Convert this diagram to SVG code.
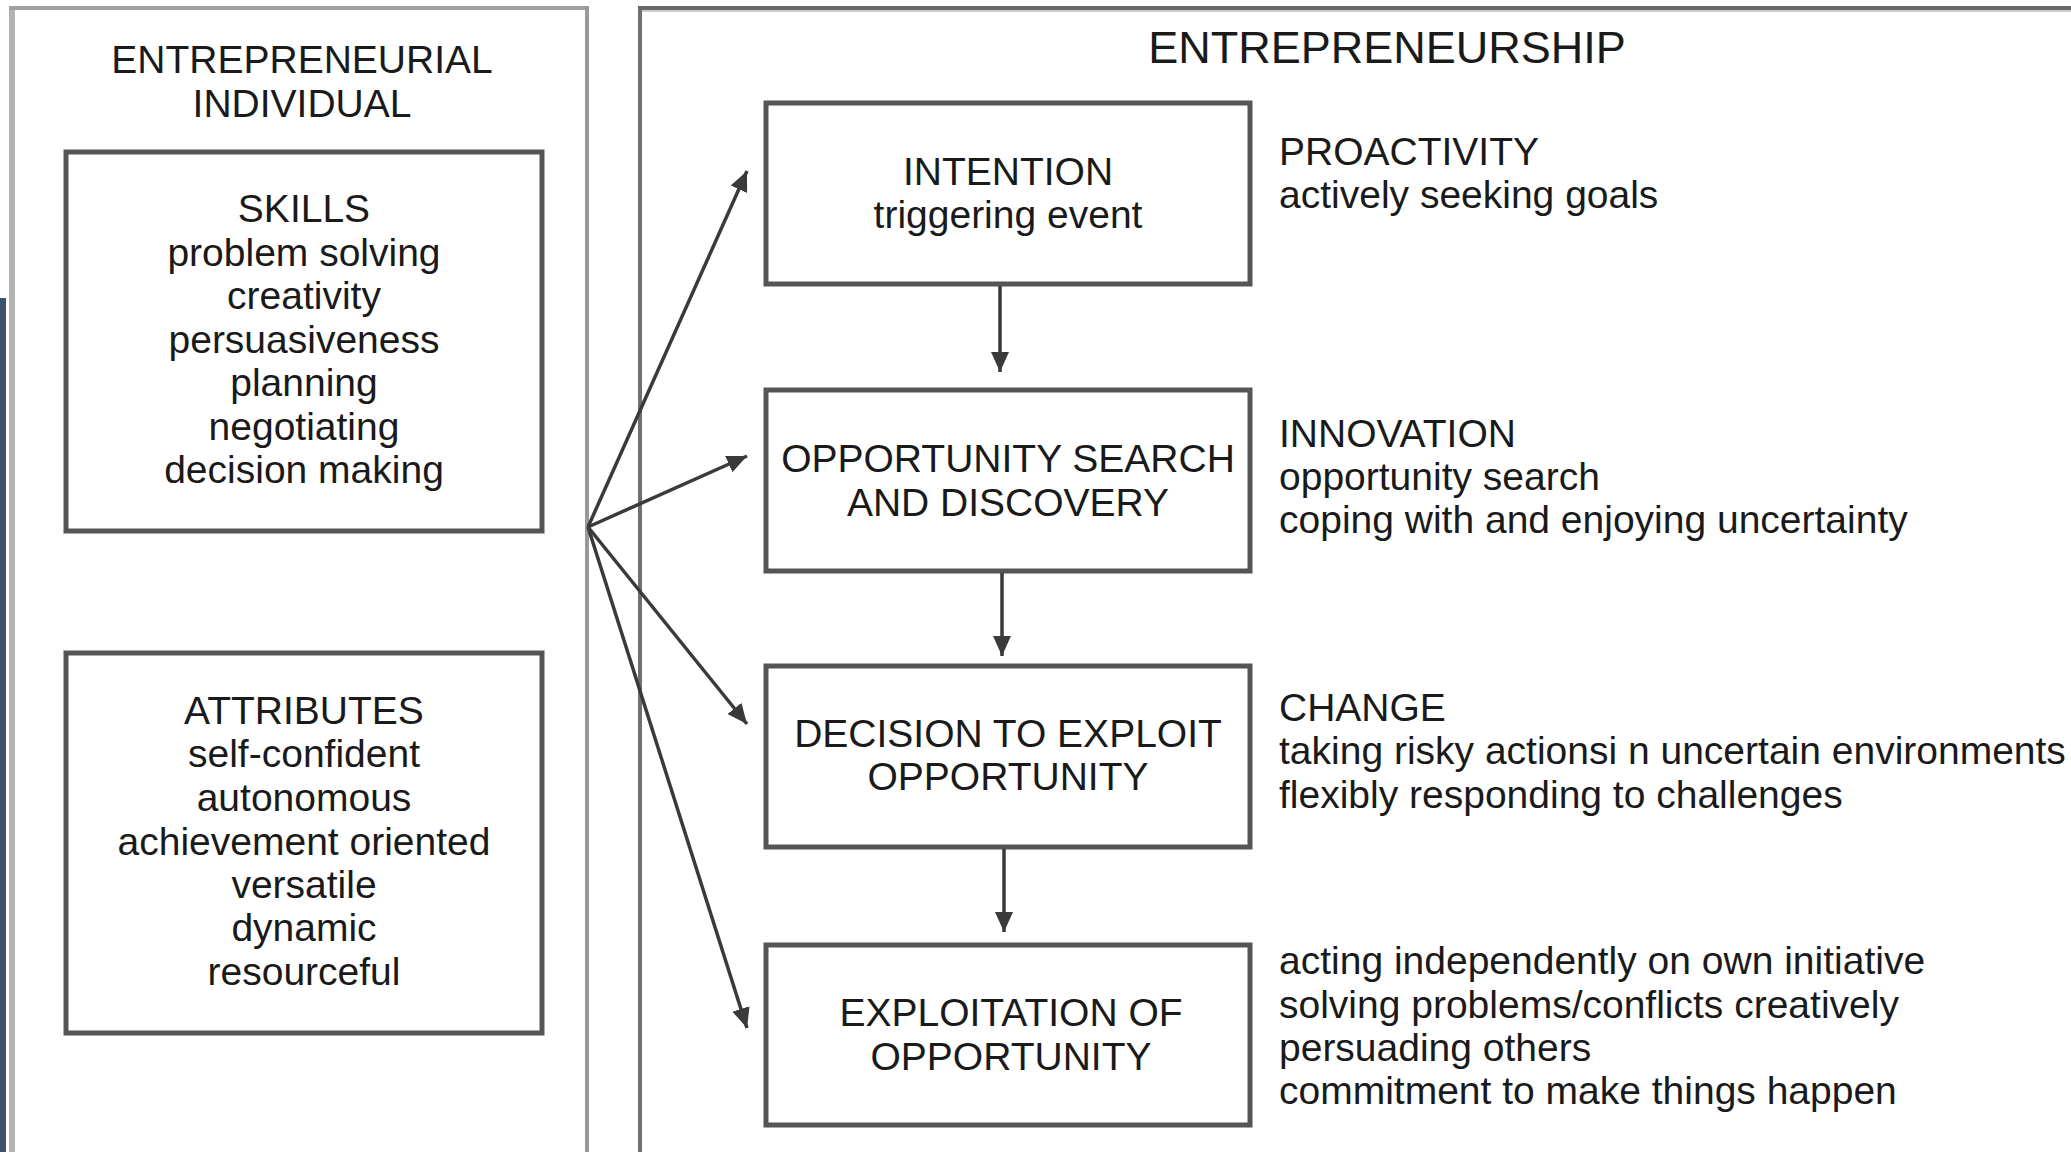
<svg xmlns="http://www.w3.org/2000/svg" width="2071" height="1152" viewBox="0 0 2071 1152">
<style>
text{font-family:"Liberation Sans",Arial,sans-serif;font-size:39px;fill:#1a1a1a}
.c{text-anchor:middle}
.box{fill:#fff;stroke:#555;stroke-width:5}
.con{stroke:#3a3a3a;stroke-width:3.5;fill:none;marker-end:url(#ah)}
</style>
<defs>
<marker id="ah" markerUnits="userSpaceOnUse" markerWidth="22" markerHeight="20" refX="20" refY="9" orient="auto">
<path d="M0,0 L20,9 L0,18 Z" fill="#3a3a3a"/>
</marker>
</defs>
<rect width="2071" height="1152" fill="#fff"/>
<rect x="0" y="298" width="6" height="854" fill="#3f506c"/>
<g id="individual-frame">
<line x1="12" y1="8" x2="12" y2="1152" stroke="#b3b3b3" stroke-width="6"/>
<line x1="9" y1="8" x2="589" y2="8" stroke="#a0a0a0" stroke-width="4"/>
<line x1="587" y1="6" x2="587" y2="1152" stroke="#999" stroke-width="4"/>
<text class="c" x="302" y="73">ENTREPRENEURIAL</text>
<text class="c" x="302" y="117">INDIVIDUAL</text>
</g>
<g id="entrepreneurship-frame">
<line x1="640" y1="6" x2="640" y2="1152" stroke="#707070" stroke-width="4"/>
<line x1="638" y1="8" x2="2071" y2="8" stroke="#6a6a6a" stroke-width="4"/>
<line x1="642" y1="11" x2="2071" y2="11" stroke="#ccc" stroke-width="2"/>
<text class="c" x="1387" y="63" style="font-size:45px">ENTREPRENEURSHIP</text>
</g>
<g id="skills">
<rect class="box" x="66" y="152" width="476" height="379"/>
<text class="c" x="304" y="222">SKILLS</text>
<text class="c" x="304" y="266">problem solving</text>
<text class="c" x="304" y="309">creativity</text>
<text class="c" x="304" y="353">persuasiveness</text>
<text class="c" x="304" y="396">planning</text>
<text class="c" x="304" y="440">negotiating</text>
<text class="c" x="304" y="483">decision making</text>
</g>
<g id="attributes">
<rect class="box" x="66" y="653" width="476" height="380"/>
<text class="c" x="304" y="724">ATTRIBUTES</text>
<text class="c" x="304" y="767">self-confident</text>
<text class="c" x="304" y="811">autonomous</text>
<text class="c" x="304" y="855">achievement oriented</text>
<text class="c" x="304" y="898">versatile</text>
<text class="c" x="304" y="941">dynamic</text>
<text class="c" x="304" y="985">resourceful</text>
</g>
<g id="intention">
<rect class="box" x="766" y="103" width="484" height="181"/>
<text class="c" x="1008" y="185">INTENTION</text>
<text class="c" x="1008" y="228">triggering event</text>
</g>
<g id="opportunity-search">
<rect class="box" x="766" y="390" width="484" height="181"/>
<text class="c" x="1008" y="472">OPPORTUNITY SEARCH</text>
<text class="c" x="1008" y="516">AND DISCOVERY</text>
</g>
<g id="decision">
<rect class="box" x="766" y="666" width="484" height="181"/>
<text class="c" x="1008" y="747">DECISION TO EXPLOIT</text>
<text class="c" x="1008" y="790">OPPORTUNITY</text>
</g>
<g id="exploitation">
<rect class="box" x="766" y="945" width="484" height="180"/>
<text class="c" x="1011" y="1026">EXPLOITATION OF</text>
<text class="c" x="1011" y="1070">OPPORTUNITY</text>
</g>
<g id="proactivity">
<text x="1279" y="165">PROACTIVITY</text>
<text x="1279" y="208">actively seeking goals</text>
</g>
<g id="innovation">
<text x="1279" y="447">INNOVATION</text>
<text x="1279" y="490">opportunity search</text>
<text x="1279" y="533">coping with and enjoying uncertainty</text>
</g>
<g id="change">
<text x="1279" y="721">CHANGE</text>
<text x="1279" y="764">taking risky actionsi n uncertain environments</text>
<text x="1279" y="808">flexibly responding to challenges</text>
</g>
<g id="behaviours">
<text x="1279" y="974">acting independently on own initiative</text>
<text x="1279" y="1018">solving problems/conflicts creatively</text>
<text x="1279" y="1061">persuading others</text>
<text x="1279" y="1104">commitment to make things happen</text>
</g>
<g id="connectors">
<line class="con" x1="588" y1="527" x2="747" y2="171"/>
<line class="con" x1="588" y1="527" x2="747" y2="456"/>
<line class="con" x1="588" y1="527" x2="747" y2="724"/>
<line class="con" x1="588" y1="527" x2="747" y2="1028"/>
<line class="con" x1="1000" y1="286" x2="1000" y2="372"/>
<line class="con" x1="1002" y1="573" x2="1002" y2="656"/>
<line class="con" x1="1004" y1="849" x2="1004" y2="932"/>
</g>
</svg>
